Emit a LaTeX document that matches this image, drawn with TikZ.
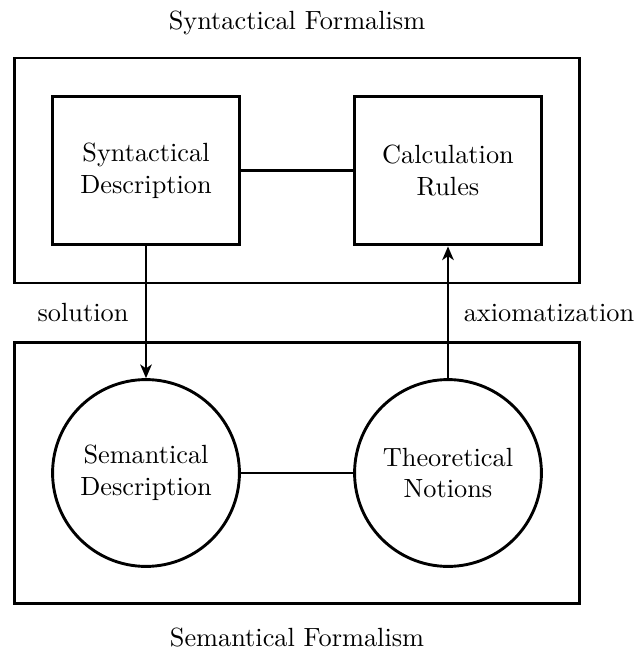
\documentclass[tikz,border=0pt]{standalone}
\usetikzlibrary{arrows.meta}
\begin{document}
\begin{tikzpicture}[x=0.38pt,y=-0.38pt,
  frame/.style={draw,line width=1.1pt,rectangle,inner sep=0pt},
  sbox/.style={draw,line width=1.2pt,rectangle,align=center,minimum width=71pt,minimum height=56.5pt,inner sep=0pt},
  scirc/.style={draw,line width=1.1pt,circle,align=center,minimum size=71pt,inner sep=0pt},
  conn/.style={line width=0.8pt},
  arr/.style={line width=0.8pt,-{Stealth[length=5.2pt,width=4.4pt,inset=1.5pt]}},
  lbl/.style={inner sep=0pt}]
\useasboundingbox (0,0) rectangle (636,657);
\node[frame,minimum width=215pt,minimum height=85.5pt] (synframe) at (297,170.5) {};
\node[frame,minimum width=215pt,minimum height=99.5pt] (semframe) at (297,473) {};
\node[sbox] (sd) at (146,170.5) {Syntactical\\Description};
\node[sbox] (cr) at (448,170.5) {Calculation\\Rules};
\node[scirc] (semd) at (146,473) {Semantical\\Description};
\node[scirc] (tn) at (448,473) {Theoretical\\Notions};
\node[lbl] (tt) at (297,23) {Syntactical Formalism};
\node[lbl] (bt) at (297,638) {Semantical Formalism};
\node[lbl] (sol) at (83,313) {solution};
\node[lbl] (ax) at (549,313) {axiomatization};
\draw[conn] (sd) -- (cr);
\draw[conn] (semd) -- (tn);
\draw[arr] (sd.south) -- (semd.north);
\draw[arr] (tn.north) -- (cr.south);
\end{tikzpicture}
\end{document}
